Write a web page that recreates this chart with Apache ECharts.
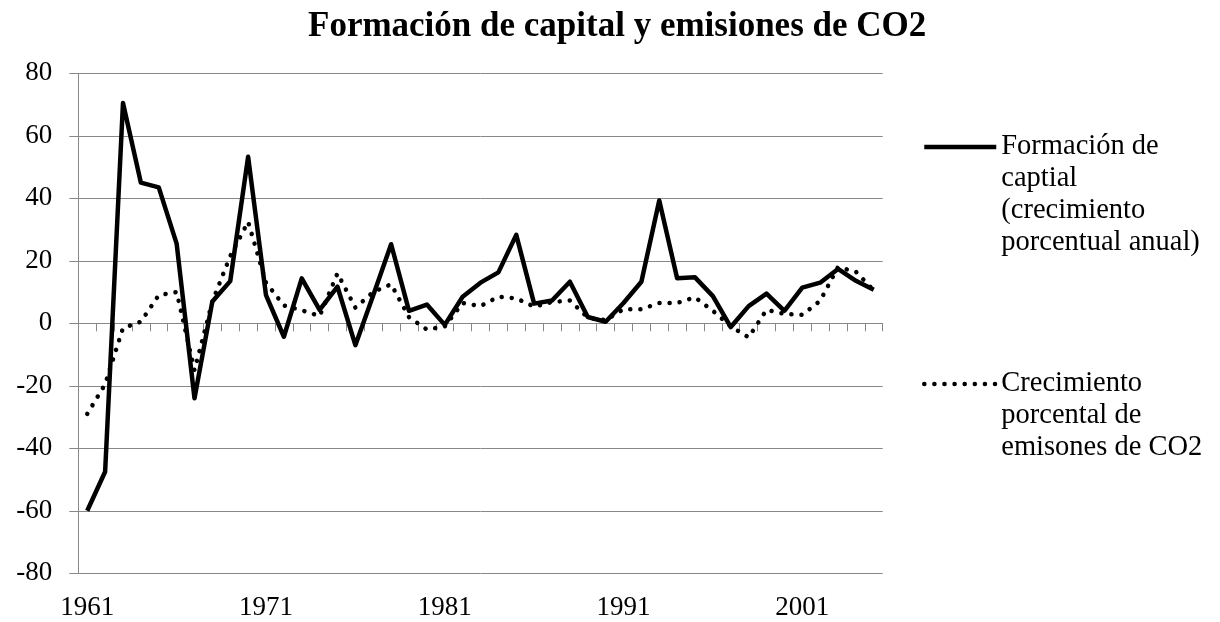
<!DOCTYPE html>
<html>
<head>
<meta charset="utf-8">
<script src="https://cdn.jsdelivr.net/npm/echarts@6/dist/echarts.min.js"></script>
<style>
  html, body { margin: 0; padding: 0; background: #fff; }
  #chart { width: 1220px; height: 622px; }
</style>
</head>
<body>
<div id="chart"></div>
<script>
const years = ['1961', '1962', '1963', '1964', '1965', '1966', '1967', '1968', '1969', '1970',
  '1971', '1972', '1973', '1974', '1975', '1976', '1977', '1978', '1979', '1980',
  '1981', '1982', '1983', '1984', '1985', '1986', '1987', '1988', '1989', '1990',
  '1991', '1992', '1993', '1994', '1995', '1996', '1997', '1998', '1999', '2000',
  '2001', '2002', '2003', '2004', '2005'];

// Formación de capital (crecimiento porcentual anual)
const capital = [-60, -47.5, 70.5, 45, 43.5, 25.5, -24, 7, 13.5, 53.3,
  9, -4.3, 14.4, 4.3, 11.7, -7, 9, 25.3, 4, 6,
  -0.5, 8.5, 13, 16.3, 28.3, 6.3, 7.3, 13.3, 2, 0.5,
  6.5, 13.3, 39.3, 14.4, 14.7, 8.7, -1.2, 5.5, 9.5, 4,
  11.4, 13, 17.4, 13.6, 10.7];

// Crecimiento porcentual de emisiones de CO2
const co2 = [-29, -19.5, -1.5, 0.5, 9, 10, -15, 7, 21.5, 32.5,
  13, 5.7, 4.2, 2.3, 16, 5, 10, 12.5, 2, -2,
  -1, 6.5, 5.5, 8.5, 8, 5.3, 6.8, 7.3, 1.8, 1,
  4.5, 4.5, 6.5, 6.5, 8.3, 4, -1, -4.5, 4.3, 3,
  2.7, 7.2, 18, 16.5, 10.5];

const yTicks = { min: -80, max: 80, interval: 20 };

const nameCapital = 'Formación de captial (crecimiento porcentual anual)';
const nameCo2 = 'Crecimiento porcental de emisones de CO2';
const linesCapital = ['Formación de', 'captial', '(crecimiento', 'porcentual anual)'];
const linesCo2 = ['Crecimiento', 'porcental de', 'emisones de CO2'];

const font = 'Liberation Serif, Times New Roman, serif';
const gray = '#888888';
const dots = [0.1, 10];

// blank lines on top so the icon sits beside the first line of text
function legendText(lines) {
  return '\n'.repeat(lines.length - 1) + lines.join('\n');
}

var myChart = echarts.init(document.getElementById('chart'));

var legendBase = {
  orient: 'vertical',
  left: 922,
  padding: 0,
  itemWidth: 72,
  itemHeight: 14,
  selectedMode: false,
  itemStyle: { opacity: 0 },
  textStyle: { fontFamily: font, fontSize: 28.5, lineHeight: 32, color: '#000' }
};

var option = {
  animation: false,
  title: {
    text: 'Formación de capital y emisiones de CO2',
    left: 303,
    top: 4,
    textStyle: { fontFamily: font, fontSize: 35, fontWeight: 'bold', color: '#000' }
  },
  legend: [
    Object.assign({}, legendBase, {
      data: [nameCapital],
      top: 35,
      formatter: () => legendText(linesCapital),
      lineStyle: { width: 4.5, color: '#000' }
    }),
    Object.assign({}, legendBase, {
      data: [nameCo2],
      top: 304,
      formatter: () => legendText(linesCo2),
      lineStyle: { width: 4.5, color: '#000', type: dots, cap: 'round' }
    })
  ],
  grid: {
    left: 78.3,
    right: 337.3,
    top: 73.3,
    bottom: 48.7
  },
  xAxis: [
    {
      type: 'category',
      data: years,
      boundaryGap: true,
      position: 'bottom',
      axisLine: { onZero: true, lineStyle: { color: gray, width: 1 } },
      axisTick: { show: true, interval: 0, length: 8, lineStyle: { color: gray } },
      axisLabel: { show: false },
      splitLine: { show: false }
    },
    {
      type: 'category',
      data: years,
      boundaryGap: true,
      position: 'bottom',
      axisLine: { show: false, onZero: false },
      axisTick: { show: false },
      axisLabel: {
        interval: 9,
        margin: 21,
        fontFamily: font,
        fontSize: 27,
        color: '#000'
      },
      splitLine: { show: false }
    }
  ],
  yAxis: {
    type: 'value',
    min: yTicks.min,
    max: yTicks.max,
    interval: yTicks.interval,
    axisLine: { show: true, lineStyle: { color: gray, width: 1 } },
    axisTick: { show: true, length: 9, lineStyle: { color: gray } },
    axisLabel: { margin: 26, fontFamily: font, fontSize: 27, color: '#000' },
    splitLine: { show: true, lineStyle: { color: gray, width: 1 } }
  },
  series: [
    {
      name: nameCapital,
      type: 'line',
      xAxisIndex: 0,
      data: capital,
      symbol: 'none',
      lineStyle: { color: '#000', width: 4.5, join: 'round' },
      itemStyle: { color: '#000' }
    },
    {
      name: nameCo2,
      type: 'line',
      xAxisIndex: 0,
      data: co2,
      symbol: 'none',
      lineStyle: { color: '#000', width: 4.5, type: dots, cap: 'round' },
      itemStyle: { color: '#000' }
    }
  ]
};

option && myChart.setOption(option);
</script>
</body>
</html>
